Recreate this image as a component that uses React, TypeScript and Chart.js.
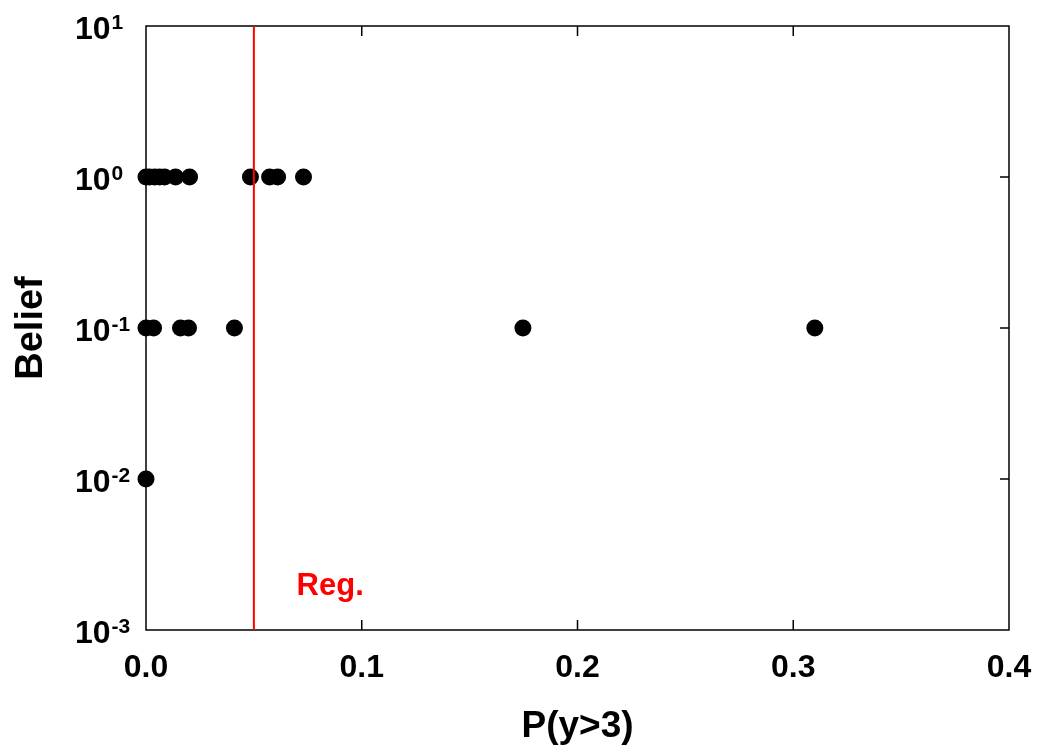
import { useEffect, useRef } from 'react';
import { Chart, registerables } from 'chart.js';

Chart.register(...registerables);

// Data
const beliefHighX = [0, 0.0016, 0.004, 0.0063, 0.0086, 0.0137, 0.0202, 0.0484, 0.0573, 0.061, 0.073];
const beliefHighY = 1;
const beliefMidX = [0, 0.0035, 0.016, 0.0197, 0.041, 0.1747, 0.31];
const beliefMidY = 0.1;
const beliefLowX = [0];
const beliefLowY = 0.01;
const regulatoryLimit = 0.05;
const xTickValues = [0, 0.1, 0.2, 0.3, 0.4];
const xTickLabels = ['0.0', '0.1', '0.2', '0.3', '0.4'];
const yTickExponents = [-3, -2, -1, 0, 1];
const regLabel = 'Reg.';
const xTitle = 'P(y>3)';
const yTitle = 'Belief';

const FONT = "'Liberation Sans', Arial, Helvetica, sans-serif";

const decorPlugin = {
  id: 'decor',
  beforeDatasetsDraw(chart: any) {
    const { ctx, chartArea: a, scales } = chart;
    const xs = scales.x;
    const ys = scales.y;
    ctx.save();
    ctx.strokeStyle = '#000';
    ctx.lineWidth = 1.5;
    ctx.strokeRect(a.left, a.top, a.right - a.left, a.bottom - a.top);
    const tl = 10;
    ctx.beginPath();
    for (const v of xTickValues.slice(1, -1)) {
      const px = xs.getPixelForValue(v);
      ctx.moveTo(px, a.bottom);
      ctx.lineTo(px, a.bottom - tl);
      ctx.moveTo(px, a.top);
      ctx.lineTo(px, a.top + tl);
    }
    for (const e of yTickExponents.slice(1, -1)) {
      const py = ys.getPixelForValue(Math.pow(10, e));
      ctx.moveTo(a.right, py);
      ctx.lineTo(a.right - 9, py);
    }
    ctx.stroke();
    ctx.restore();
  },
  afterDraw(chart: any) {
    const { ctx, chartArea: a, scales } = chart;
    const xs = scales.x;
    const ys = scales.y;
    ctx.save();
    ctx.fillStyle = '#000';
    // x tick labels
    ctx.font = `bold 32px ${FONT}`;
    ctx.textAlign = 'center';
    ctx.textBaseline = 'alphabetic';
    xTickValues.forEach((v, i) => {
      ctx.fillText(xTickLabels[i], xs.getPixelForValue(v), a.bottom + 47);
    });
    // y tick labels 10^n
    const leftEdge = 75;
    for (const e of yTickExponents) {
      const py = ys.getPixelForValue(Math.pow(10, e));
      ctx.textAlign = 'left';
      ctx.font = `bold 32px ${FONT}`;
      ctx.fillText('10', leftEdge, py + 13);
      const w = ctx.measureText('10').width;
      ctx.font = `bold 21px ${FONT}`;
      ctx.fillText(String(e), leftEdge + w + 1, py + 3);
    }
    // axis titles
    ctx.font = `bold 37px ${FONT}`;
    ctx.textAlign = 'center';
    ctx.fillText(xTitle, (a.left + a.right) / 2, 737);
    ctx.save();
    ctx.translate(42, (a.top + a.bottom) / 2);
    ctx.rotate(-Math.PI / 2);
    ctx.font = `bold 38px ${FONT}`;
    ctx.fillText(yTitle, 0, 0);
    ctx.restore();
    // Reg. label
    ctx.fillStyle = '#ff0000';
    ctx.font = `bold 31px ${FONT}`;
    ctx.textAlign = 'left';
    ctx.fillText(regLabel, xs.getPixelForValue(0.0698), ys.getPixelForValue(0.0017));
    ctx.restore();
  },
};

export default function App() {
  const ref = useRef<HTMLCanvasElement>(null);
  useEffect(() => {
    if (!ref.current) return;
    const points = [
      ...beliefHighX.map((x) => ({ x, y: beliefHighY })),
      ...beliefMidX.map((x) => ({ x, y: beliefMidY })),
      ...beliefLowX.map((x) => ({ x, y: beliefLowY })),
    ];
    const chart = new Chart(ref.current, {
      type: 'scatter',
      data: {
        datasets: [
          {
            label: 'Reg.',
            data: [
              { x: regulatoryLimit, y: 0.001 },
              { x: regulatoryLimit, y: 10 },
            ],
            showLine: true,
            borderColor: '#ff0000',
            borderWidth: 2,
            pointRadius: 0,
            order: 0,
          } as any,
          {
            label: 'Belief',
            data: points,
            backgroundColor: '#000',
            borderWidth: 0,
            pointRadius: 8.5,
            clip: false,
            order: 1,
          } as any,
        ],
      },
      options: {
        animation: false,
        responsive: false,
        layout: { padding: { top: 26, right: 30, left: 0, bottom: 0 } },
        plugins: { legend: { display: false }, tooltip: { enabled: false } },
        scales: {
          x: {
            type: 'linear',
            min: 0,
            max: 0.4,
            ticks: { display: false },
            grid: { display: false },
            border: { display: false },
            afterFit: (s: any) => {
              s.height = 125;
            },
          },
          y: {
            type: 'logarithmic',
            min: 0.001,
            max: 10,
            ticks: { display: false },
            grid: { display: false },
            border: { display: false },
            afterFit: (s: any) => {
              s.width = 146;
            },
          },
        },
      },
      plugins: [decorPlugin],
    });
    return () => chart.destroy();
  }, []);
  return (
    <div style={{ position: 'fixed', left: 0, top: 0, width: 1039, height: 755, background: '#fff' }}>
      <canvas ref={ref} width={1039} height={755} style={{ width: 1039, height: 755 }} />
    </div>
  );
}
